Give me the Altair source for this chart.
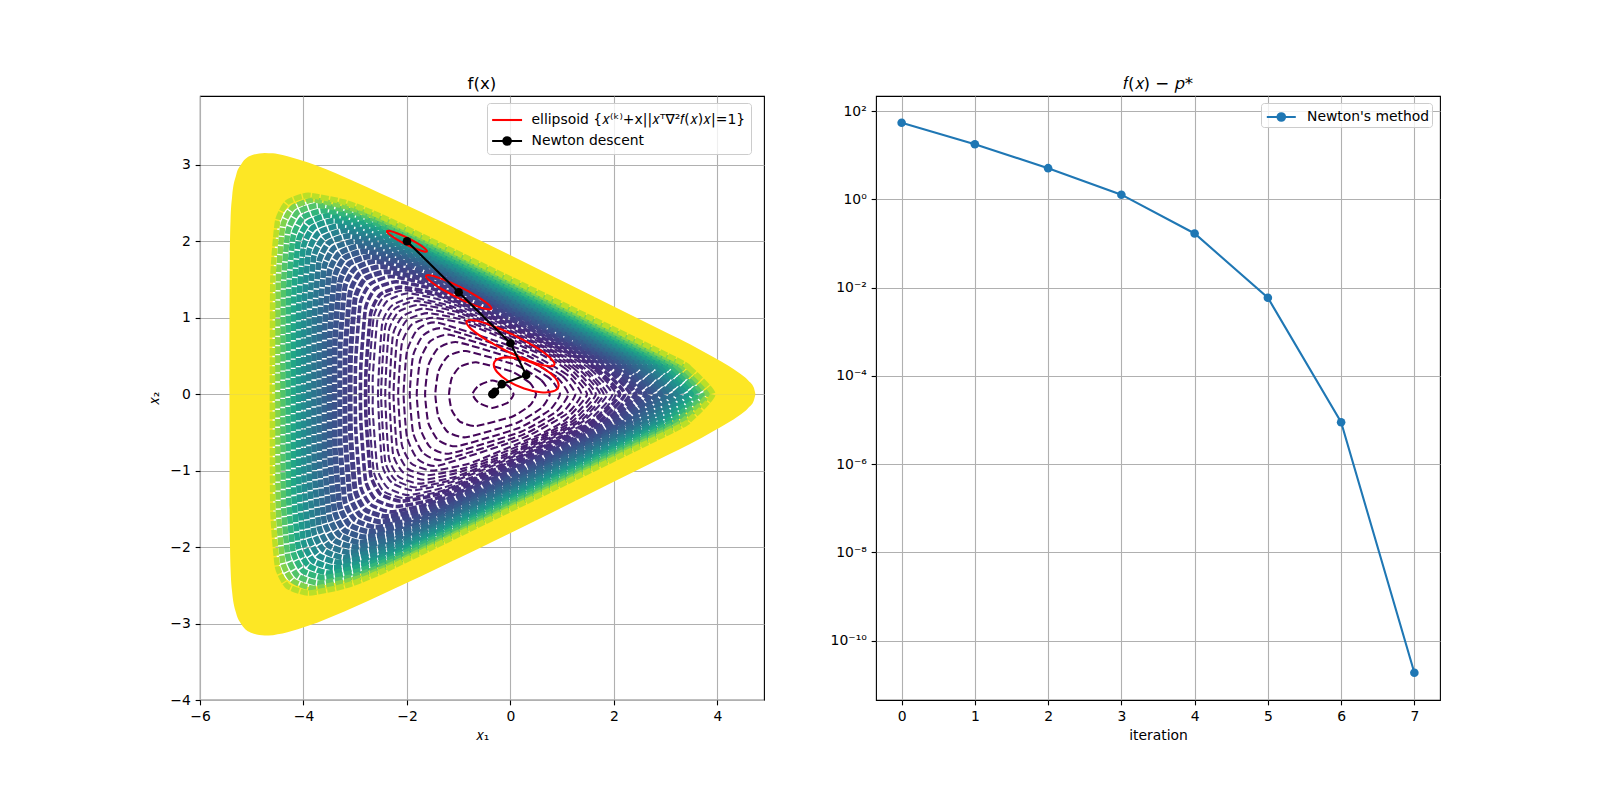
import altair as alt
import pandas as pd

# ---- values -----------------------------------------------------------------
iterations = [0, 1, 2, 3, 4, 5, 6, 7]
gap_values = [54.2, 17.7, 5.07, 1.27, 0.168, 5.87e-3, 8.87e-6, 1.87e-11]

newton_x = [-2.0, -1.0, 0.0, 0.304, -0.168, -0.30, -0.345, -0.347]
newton_y = [2.0, 1.333, 0.667, 0.252, 0.131, 0.03, 0.002, 0.0]

ellipse_0 = [(-1.614,1.870),(-1.659,1.909),(-1.795,1.972),(-1.986,2.043),(-2.181,2.102),(-2.327,2.134),
             (-2.386,2.130),(-2.342,2.091),(-2.206,2.028),(-2.014,1.957),(-1.820,1.898),(-1.673,1.866)]
ellipse_1 = [(-0.367,1.119),(-0.44,1.183),(-0.663,1.287),(-0.976,1.403),(-1.296,1.501),(-1.536,1.553),
             (-1.633,1.547),(-1.56,1.483),(-1.337,1.379),(-1.024,1.263),(-0.704,1.165),(-0.464,1.113)]
ellipse_2 = [(0.85,0.388),(0.755,0.483),(0.458,0.627),(0.038,0.782),(-0.392,0.906),(-0.717,0.966),
             (-0.85,0.946),(-0.755,0.851),(-0.458,0.707),(-0.038,0.552),(0.392,0.428),(0.717,0.368)]
ellipse_3 = [(0.929,0.106),(0.866,0.214),(0.652,0.332),(0.345,0.429),(0.027,0.478),(-0.216,0.467),
             (-0.321,0.398),(-0.258,0.290),(-0.044,0.172),(0.263,0.075),(0.581,0.026),(0.824,0.037)]
ellipses = [ellipse_0, ellipse_1, ellipse_2, ellipse_3]

# upper half of each contour (the picture is symmetric about x2 = 0): level -> (x, x2) vertices
thin_rings = {
    2.75: [(0.06,0),(-0.05,0.11),(-0.35,0.18),(-0.62,0.11),(-0.735,0)],
    3.52: [(0.495,0),(0.379,0.146),(0.031,0.294),(-0.665,0.417),(-0.978,0.358),(-1.135,0.21),(-1.187,0)],
    4.29: [(0.759,0),(0.597,0.182),(0.11,0.38),(-0.863,0.564),(-1.216,0.492),(-1.393,0.298),(-1.452,0)],
    5.06: [(0.957,0),(0.76,0.207),(0.163,0.442),(-1.028,0.68),(-1.401,0.6),(-1.588,0.375),(-1.65,0)],
    5.83: [(1.118,0),(0.889,0.226),(0.203,0.491),(-1.17,0.777),(-1.555,0.691),(-1.747,0.443),(-1.811,0)],
    6.60: [(1.254,0),(1.0,0.241),(0.235,0.532),(-1.294,0.861),(-1.685,0.772),(-1.881,0.507),(-1.946,0)],
    7.37: [(1.372,0),(1.094,0.255),(0.262,0.568),(-1.404,0.935),(-1.801,0.844),(-2.0,0.561),(-2.065,0)],
    8.14: [(1.48,0),(1.07,0.33),(0.65,0.5),(0.10,0.66),(-0.81,0.91),(-1.51,1.0),(-1.91,0.91),(-2.10,0.66),(-2.17,0)],
    8.91: [(1.57,0),(1.16,0.33),(0.74,0.5),(0.01,0.72),(-0.90,0.97),(-1.60,1.06),(-2.0,0.97),(-2.19,0.72),(-2.26,0)],
    9.68: [(1.65,0),(1.24,0.33),(0.82,0.5),(-0.07,0.78),(-0.98,1.02),(-1.68,1.12),(-2.08,1.02),(-2.27,0.78),(-2.34,0)],
    10.45: [(1.73,0),(1.32,0.33),(0.90,0.5),(-0.15,0.83),(-1.06,1.08),(-1.76,1.17),(-2.16,1.08),(-2.35,0.83),(-2.42,0)],
    11.22: [(1.80,0),(1.39,0.33),(0.97,0.5),(-0.22,0.88),(-1.13,1.12),(-1.83,1.22),(-2.23,1.12),(-2.42,0.88),(-2.50,0)],
    11.99: [(1.87,0),(1.45,0.33),(1.03,0.5),(-0.28,0.92),(-1.19,1.16),(-1.89,1.26),(-2.29,1.16),(-2.48,0.92),(-2.56,0)],
    13.0: [(1.97,0),(1.54,0.33),(1.12,0.5),(-0.37,0.98),(-1.28,1.22),(-1.98,1.32),(-2.38,1.22),(-2.57,0.98),(-2.66,0.24),(-2.66,0)],
    14.0: [(2.04,0),(1.61,0.33),(1.19,0.5),(-0.44,1.02),(-1.35,1.27),(-2.05,1.36),(-2.45,1.27),(-2.64,1.02),(-2.73,0.29),(-2.74,0)],
}
low_rings = {
    14.9: [(2.11,0),(1.67,0.33),(1.25,0.5),(-0.5,1.06),(-1.41,1.31),(-2.11,1.40),(-2.51,1.31),(-2.7,1.06),(-2.79,0.33),(-2.8,0)],
    16.4: [(2.21,0),(1.77,0.33),(1.35,0.5),(-0.6,1.13),(-1.51,1.38),(-2.21,1.47),(-2.61,1.38),(-2.8,1.13),(-2.89,0.39),(-2.9,0)],
    18.2: [(2.31,0),(1.87,0.33),(1.45,0.5),(-0.7,1.20),(-1.61,1.44),(-2.31,1.54),(-2.71,1.44),(-2.9,1.20),(-2.99,0.46),(-3.0,0)],
}
mid_rings = {
    20.1: [(2.41,0),(1.97,0.33),(1.55,0.5),(-0.8,1.26),(-1.71,1.51),(-2.41,1.60),(-2.81,1.51),(-3.0,1.26),(-3.09,0.53),(-3.1,0)],
    22.2: [(2.51,0),(2.07,0.33),(1.65,0.5),(-0.9,1.33),(-1.81,1.58),(-2.51,1.67),(-2.91,1.58),(-3.1,1.33),(-3.19,0.59),(-3.2,0)],
    24.5: [(2.61,0),(2.17,0.33),(1.75,0.5),(-1.0,1.40),(-1.91,1.64),(-2.61,1.74),(-3.01,1.64),(-3.2,1.40),(-3.29,0.66),(-3.3,0)],
}
wide_rings = {
    27.1: [(2.71,0),(2.27,0.33),(1.85,0.5),(-1.1,1.46),(-2.01,1.71),(-2.71,1.80),(-3.11,1.71),(-3.3,1.46),(-3.39,0.73),(-3.4,0)],
    30.0: [(2.81,0),(2.37,0.33),(1.95,0.5),(-1.2,1.53),(-2.11,1.78),(-2.81,1.87),(-3.21,1.78),(-3.4,1.53),(-3.49,0.79),(-3.5,0)],
    33.1: [(2.91,0),(2.47,0.33),(2.05,0.5),(-1.3,1.60),(-2.21,1.84),(-2.91,1.94),(-3.31,1.84),(-3.5,1.60),(-3.59,0.86),(-3.6,0)],
    36.6: [(3.01,0),(2.57,0.33),(2.15,0.5),(-1.4,1.66),(-2.31,1.91),(-3.01,2.00),(-3.41,1.91),(-3.6,1.66),(-3.69,0.93),(-3.7,0)],
    40.4: [(3.11,0),(2.67,0.33),(2.25,0.5),(-1.5,1.73),(-2.41,1.98),(-3.11,2.07),(-3.51,1.98),(-3.7,1.73),(-3.79,0.99),(-3.8,0)],
    44.7: [(3.21,0),(2.77,0.33),(2.35,0.5),(-1.6,1.80),(-2.51,2.04),(-3.21,2.14),(-3.61,2.04),(-3.8,1.80),(-3.89,1.06),(-3.9,0)],
    49.4: [(3.31,0),(2.87,0.33),(2.45,0.5),(-1.7,1.86),(-2.61,2.11),(-3.31,2.20),(-3.71,2.11),(-3.9,1.86),(-3.99,1.13),(-4.0,0)],
    54.6: [(3.41,0),(2.97,0.33),(2.55,0.5),(-1.8,1.93),(-2.71,2.18),(-3.41,2.27),(-3.81,2.18),(-4.0,1.93),(-4.09,1.19),(-4.1,0)],
    60.3: [(3.51,0),(3.07,0.33),(2.65,0.5),(-1.9,2.00),(-2.81,2.24),(-3.51,2.34),(-3.91,2.24),(-4.1,2.00),(-4.19,1.26),(-4.2,0)],
    66.7: [(3.61,0),(3.17,0.33),(2.75,0.5),(-2.0,2.06),(-2.91,2.31),(-3.61,2.40),(-4.01,2.31),(-4.2,2.06),(-4.29,1.33),(-4.3,0)],
    73.7: [(3.71,0),(3.27,0.33),(2.85,0.5),(-2.1,2.13),(-3.01,2.38),(-3.71,2.47),(-4.11,2.38),(-4.3,2.13),(-4.39,1.39),(-4.4,0)],
    81.5: [(3.81,0),(3.37,0.33),(2.95,0.5),(-2.2,2.20),(-3.11,2.44),(-3.81,2.54),(-4.21,2.44),(-4.4,2.20),(-4.49,1.46),(-4.5,0)],
    90.0: [(3.91,0),(3.47,0.33),(3.05,0.5),(-2.3,2.26),(-3.21,2.51),(-3.91,2.60),(-4.31,2.51),(-4.5,2.26),(-4.59,1.53),(-4.6,0)],
}

# yellow outer band, upper half: x1, inner edge, outer edge
band_x     = [-5.43,-5.425,-5.41,-5.38,-5.3,-5.2,-5.0,-4.75,-4.60,-4.59,-4.50,-4.31,-3.91,-3.21,-2.30,3.05,3.47,3.91,4.22,4.40,4.60,4.70,4.735]
band_inner = [0,0,0,0,0,0,0,0,0,1.45,2.18,2.43,2.52,2.43,2.14,0.36,0.19,0,0,0,0,0,0]
band_outer = [0,1.67,2.27,2.58,2.87,3.01,3.124,3.156,3.152,3.152,3.141,3.113,3.03,2.841,2.561,0.793,0.653,0.489,0.368,0.288,0.177,0.089,0]

legend_left = ["ellipsoid {𝑥⁽ᵏ⁾+x||𝑥ᵀ∇²𝑓(𝑥)𝑥|=1}", "Newton descent"]
legend_right = "Newton's method"
log_ticks = [1e-10, 1e-8, 1e-6, 1e-4, 1e-2, 1, 100]
# ------------------------------------------------------------------------------

FONT = "DejaVu Sans"
GRID = "#b0b0b0"
LINE_PATH = "M-1.13,0L1.72,0"
DOT_PATH = "M-1.13,0L1.72,0M0.655,0A0.36,0.36,0,1,1,-0.065,0A0.36,0.36,0,1,1,0.655,0Z"
RIGHT_PATH = "M-0.78,0L1.98,0M0.96,0A0.36,0.36,0,1,1,0.24,0A0.36,0.36,0,1,1,0.96,0Z"


def closed_rows(rings):
    rows = []
    for level, pts in rings.items():
        upper = list(pts)
        lower = [(x, -y) for x, y in reversed(pts) if y != 0]
        for i, (x, y) in enumerate(upper + lower):
            rows.append({"level": level, "i": i, "x": x, "y": y})
    return pd.DataFrame(rows)


left_x_scale = alt.Scale(domain=[-6, 4.9], nice=False, zero=False)
left_y_scale = alt.Scale(domain=[-4, 3.9], nice=False, zero=False)
left_y_axis = alt.Axis(values=[-4, -3, -2, -1, 0, 1, 2, 3], title="𝑥₂", format="d", titlePadding=8)
x_left = alt.X("x:Q", scale=left_x_scale,
               axis=alt.Axis(values=[-6, -4, -2, 0, 2, 4], title="𝑥₁", format="d"))
y_left = alt.Y("y:Q", scale=left_y_scale, axis=left_y_axis)
stroke_levels = alt.Stroke("level:Q", scale=alt.Scale(scheme="viridis", domain=[2.75, 100], clamp=True), legend=None)


def rings_layer(rings, width, dash):
    return alt.Chart(closed_rows(rings)).mark_line(
        interpolate="cardinal-closed", tension=0.5, strokeWidth=width, strokeDash=dash
    ).encode(x=x_left, y=y_left, stroke=stroke_levels, detail="level:Q", order="i:Q")


band = pd.DataFrame({"x": band_x, "inner": band_inner, "outer": band_outer})
band["inner_low"] = -band["inner"]
band["outer_low"] = -band["outer"]
band_up = alt.Chart(band).mark_area(color="#fde725", opacity=1, interpolate="monotone").encode(
    x=x_left, y=alt.Y("inner:Q", scale=left_y_scale, axis=left_y_axis), y2="outer:Q")
band_low = alt.Chart(band).mark_area(color="#fde725", opacity=1, interpolate="monotone").encode(
    x=x_left, y=alt.Y("inner_low:Q", scale=left_y_scale, axis=left_y_axis), y2="outer_low:Q")

left_colors = alt.Color("name:N", scale=alt.Scale(domain=legend_left, range=["#ff0000", "#000000"]),
                        legend=alt.Legend(title=None, orient="none", legendX=287, legendY=7,
                                          symbolStrokeWidth=2.08, symbolSize=441, labelFontSize=13.9,
                                          labelFont=FONT, labelColor="black", fillColor="rgba(255,255,255,0.8)",
                                          strokeColor="#cccccc", cornerRadius=3, padding=5, rowPadding=2,
                                          labelOffset=15.5, labelLimit=400))
left_shapes = alt.Shape("name:N", scale=alt.Scale(domain=legend_left, range=[LINE_PATH, DOT_PATH]), legend=None)

ell_rows = []
for n, pts in enumerate(ellipses):
    for i, (x, y) in enumerate(pts):
        ell_rows.append({"e": n, "i": i, "x": x, "y": y, "name": legend_left[0]})
ell_df = pd.DataFrame(ell_rows)
ell = alt.Chart(ell_df).mark_line(interpolate="cardinal-closed", strokeWidth=2.08).encode(
    x=x_left, y=y_left, color=left_colors, shape=left_shapes, detail="e:N", order="i:Q")

newton = pd.DataFrame({"x": newton_x, "y": newton_y, "name": legend_left[1], "i": range(8)})
new_line = alt.Chart(newton).mark_line(strokeWidth=2.08).encode(
    x=x_left, y=y_left, color=left_colors, order="i:Q")
new_pts = alt.Chart(newton).mark_point(filled=True, opacity=1, size=74, shape="circle").encode(
    x=x_left, y=y_left, color=left_colors)

left = alt.layer(
    band_up, band_low,
    rings_layer(thin_rings, 2.08, [7.7, 3.3]),
    rings_layer(low_rings, 3.6, [7.7, 2.4]),
    rings_layer(mid_rings, 5.0, [7.7, 2.0]),
    rings_layer(wide_rings, 5.6, [7.7, 1.4]),
    ell, new_line, new_pts,
).properties(
    width=564, height=604,
    title=alt.TitleParams("f(x)", font=FONT, fontSize=16.7, fontWeight="normal", color="black", offset=3))

gap = pd.DataFrame({"iteration": iterations, "gap": gap_values, "name": legend_right})
x_right = alt.X("iteration:Q", scale=alt.Scale(domain=[-0.35, 7.35], nice=False, zero=False),
                axis=alt.Axis(values=iterations, title="iteration", format="d"))
y_right = alt.Y("gap:Q", scale=alt.Scale(type="log", domain=[4.5e-12, 219], nice=False),
                axis=alt.Axis(values=log_ticks, title=None,
                              labelExpr="['10⁻¹⁰','10⁻⁸','10⁻⁶','10⁻⁴','10⁻²','10⁰','10²'][round((log(datum.value)/LN10+10)/2)]"))
right_color = alt.Color("name:N", scale=alt.Scale(domain=[legend_right], range=["#1f77b4"]),
                        legend=alt.Legend(title=None, orient="none", legendX=385, legendY=7,
                                          symbolType=RIGHT_PATH, symbolStrokeWidth=2.08, symbolSize=441,
                                          labelFontSize=13.9, labelFont=FONT, labelColor="black",
                                          fillColor="rgba(255,255,255,0.8)", strokeColor="#cccccc",
                                          cornerRadius=3, padding=2, labelOffset=20, labelLimit=300))
right_line = alt.Chart(gap).mark_line(strokeWidth=2.08).encode(x=x_right, y=y_right, color=right_color)
right_pts = alt.Chart(gap).mark_point(filled=True, opacity=1, size=74, shape="circle").encode(x=x_right, y=y_right, color=right_color)
right = alt.layer(right_line, right_pts).properties(
    width=564, height=604,
    title=alt.TitleParams("𝑓(𝑥) − 𝑝*", font=FONT, fontSize=16.7, fontWeight="normal", color="black", offset=3))

chart = alt.hconcat(left, right, spacing=64).resolve_scale(
    color="independent", shape="independent"
).properties(
    padding={"left": 139, "top": 67, "right": 10, "bottom": 10},
).configure_view(stroke="black", strokeWidth=1.1).configure_axis(
    grid=True, gridColor=GRID, gridWidth=1.11, domain=False, tickColor="black", tickWidth=1.11, tickSize=4.86,
    labelPadding=4.86, labelFont=FONT, labelFontSize=13.9, labelColor="black", titleFont=FONT, titleFontSize=13.9,
    titleColor="black", titleFontWeight="normal", titlePadding=5, labelFlush=False, labelOverlap=False,
)

chart.save("out.html", embed_options={"renderer": "svg", "actions": False})
